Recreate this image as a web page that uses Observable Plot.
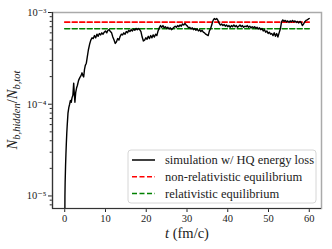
<!DOCTYPE html>
<html><head><meta charset="utf-8">
<script src="https://cdn.jsdelivr.net/npm/d3@7"></script>
<script src="https://cdn.jsdelivr.net/npm/@observablehq/plot@0.6"></script>
<style>body{margin:0;background:#fff} svg{display:block}</style>
</head><body><div id="chart"></div>
<script>
// time (fm/c)
const tValues = [0,0.05,0.1,0.2,0.3,0.4,0.5,0.6,0.8,1.0,1.2,1.4,1.6,1.8,2.0,2.2,2.35,2.5,2.7,2.9,3.1,3.4,3.7,4.0,4.25,4.45,4.65,4.85,5.05,5.3,5.5,5.8,6.1,6.4,6.7,7.0,7.3,7.6,7.9,8.2,8.5,8.8,9.1,9.4,9.7,10.0,10.3,10.6,10.9,11.2,11.5,11.8,12.1,12.4,12.7,13.0,13.3,13.6,13.9,14.2,14.5,14.8,15.1,15.4,15.7,16.0,16.3,16.6,16.9,17.2,17.5,17.8,18.1,18.4,18.7,19.0,19.3,19.6,19.9,20.2,20.5,20.8,21.1,21.4,21.7,22.0,22.3,22.6,22.9,23.2,23.5,23.8,24.1,24.4,24.7,25.0,25.3,25.6,25.9,26.2,26.5,26.8,27.1,27.4,27.7,28.0,28.3,28.6,28.9,29.2,29.5,29.8,30.1,30.4,30.7,31.0,31.3,31.6,31.9,32.2,32.5,32.8,33.1,33.4,33.7,34.0,34.3,34.6,34.9,35.2,35.5,35.8,36.1,36.4,36.7,37.0,37.3,37.6,37.9,38.2,38.5,38.8,39.1,39.4,39.7,40.0,40.3,40.6,40.9,41.2,41.5,41.8,42.1,42.4,42.7,43.0,43.3,43.6,43.9,44.2,44.5,44.8,45.1,45.4,45.7,46.0,46.3,46.6,46.9,47.2,47.5,47.8,48.1,48.4,48.7,49.0,49.3,49.6,49.9,50.2,50.5,50.8,51.1,51.4,51.7,52.0,52.3,52.6,52.9,53.2,53.5,53.8,54.1,54.4,54.7,55.0,55.3,55.6,55.9,56.2,56.5,56.8,57.1,57.4,57.7,58.0,58.3,58.6,58.9,59.2,59.5,59.8,60.0];
// N_b,hidden / N_b,tot in units of 1e-4
const simValuesE4 = [0.02,0.1,0.14,0.21,0.29,0.38,0.48,0.58,0.8,0.92,1.0,1.1,1.05,1.18,1.25,1.7,1.3,1.05,1.35,1.5,1.6,1.82,1.95,2.05,2.2,2.05,1.98,2.4,2.65,2.8,3.2,3.9,4.5,5.0,5.3,5.2,5.6,5.3,5.8,5.5,5.9,5.7,6.0,5.8,6.1,6.3,6.0,6.4,6.5,6.2,6.0,5.4,5.0,4.6,4.8,5.2,5.0,5.5,5.8,5.7,6.0,5.8,6.2,6.0,6.4,6.2,6.5,6.3,6.6,6.4,6.7,6.5,6.7,6.5,6.2,5.4,4.9,5.0,5.3,5.1,5.5,5.2,5.6,5.3,5.7,5.4,5.8,5.6,6.3,6.8,7.2,6.9,7.2,6.8,7.0,6.7,6.9,6.6,6.8,6.5,6.7,6.9,7.1,6.9,7.2,7.0,7.3,7.1,7.5,7.3,7.6,7.3,7.1,6.8,6.9,6.6,6.8,6.5,6.7,6.4,6.6,6.3,6.5,6.2,6.4,6.1,6.0,5.8,5.7,5.6,6.3,6.7,7.4,8.2,8.6,8.4,8.6,8.2,7.6,7.3,7.5,7.2,7.4,7.1,7.3,7.0,7.2,6.9,7.2,7.0,7.3,7.0,7.2,6.9,7.1,7.3,7.0,7.2,6.9,7.1,7.0,7.2,6.9,7.1,6.8,7.0,6.8,7.0,6.7,6.9,6.6,6.8,6.5,6.7,6.3,6.5,6.1,6.3,5.9,6.1,5.8,5.9,5.6,6.0,5.5,5.9,5.4,6.0,6.6,7.9,8.3,8.0,8.2,7.9,8.1,7.8,8.1,7.9,8.2,7.9,8.1,7.8,8.0,7.7,8.0,7.8,7.2,7.5,7.9,8.2,8.3,8.5,8.6];
const eqT = [0, 60];
const nonRelEq = 7.85e-4;
const relEq = 6.65e-4;
const xTicks = [0,10,20,30,40,50,60];
const xTickLabels = ["0","10","20","30","40","50","60"];
const yMajor = [1e-5,1e-4,1e-3];
const yTickLabels = ["10\u207B\u2075","10\u207B\u2074","10\u207B\u00B3"];
const yMinor = [8e-6,9e-6,2e-5,3e-5,4e-5,5e-5,6e-5,7e-5,8e-5,9e-5,2e-4,3e-4,4e-4,5e-4,6e-4,7e-4,8e-4,9e-4];
const legendLabels = ["simulation w/ HQ energy loss","non-relativistic equilibrium","relativistic equilibrium"];
const legendColors = ["black","red","green"];
const legendDash = [null,"5,2.5","5,2.5"];

const data = tValues.map((t, i) => ({t, v: simValuesE4[i] * 1e-4}));
const yMin = 7.3e-6;
const serif = "'Liberation Serif', 'DejaVu Serif', serif";

const svg = Plot.plot({
  width: 332, height: 249,
  marginLeft: 52, marginRight: 11, marginTop: 12, marginBottom: 41,
  style: {fontFamily: serif, fontSize: "10px", background: "white", color: "#222"},
  x: {domain: [-3, 63]},
  y: {type: "log", domain: [yMin, 1e-3]},
  marks: [
    Plot.axisX({ticks: xTicks, tickFormat: d => xTickLabels[xTicks.indexOf(d)], tickSize: 4, tickPadding: 2, label: null, fontSize: 10.5}),
    Plot.axisY({ticks: yMajor, tickFormat: d => yTickLabels[yMajor.indexOf(d)], tickSize: 4, tickPadding: 2, label: null, fontSize: 10.5}),
    Plot.axisY({ticks: yMinor, tickFormat: () => "", tickSize: 2.3, label: null}),
    Plot.frame({stroke: "#aaa", strokeWidth: 1.5}),
    Plot.ruleX([-3], {stroke: "#333", strokeWidth: 1.2}),
    Plot.ruleY([yMin], {stroke: "#333", strokeWidth: 1.2}),
    Plot.line(eqT, {x: d => d, y: () => nonRelEq, stroke: "red", strokeWidth: 1.6, strokeDasharray: "5,2.5"}),
    Plot.line(eqT, {x: d => d, y: () => relEq, stroke: "green", strokeWidth: 1.6, strokeDasharray: "5,2.5"}),
    Plot.line(data, {x: "t", y: "v", stroke: "black", strokeWidth: 1.4, clip: true})
  ]
});

const root = d3.select(svg);
// x label
const xl = root.append("text").attr("x", 187).attr("y", 238).attr("text-anchor", "middle")
  .attr("font-family", serif).attr("font-size", 14.5).attr("fill", "#222");
xl.append("tspan").attr("font-style", "italic").text("t");
xl.append("tspan").text(" (fm/c)");
// y label
const yl = root.append("text").attr("transform", "translate(17,110) rotate(-90)").attr("text-anchor", "middle")
  .attr("font-family", serif).attr("font-size", 14.5).attr("fill", "#222").attr("font-style", "italic");
yl.append("tspan").text("N");
yl.append("tspan").attr("font-size", 10.5).attr("dy", 3).text("b,hidden");
yl.append("tspan").attr("dy", -3).attr("font-style", "normal").text("/");
yl.append("tspan").text("N");
yl.append("tspan").attr("font-size", 10.5).attr("dy", 3).text("b,tot");
// legend
const lg = root.append("g").attr("text-anchor", "start");
lg.append("rect").attr("x", 128).attr("y", 150).attr("width", 188).attr("height", 53).attr("rx", 3)
  .attr("fill", "white").attr("fill-opacity", 0.85).attr("stroke", "#d6d6d6");
legendLabels.forEach((lab, i) => {
  const y = 160 + i * 16.7;
  const ln = lg.append("line").attr("x1", 132).attr("x2", 155).attr("y1", y).attr("y2", y)
    .attr("stroke", legendColors[i]).attr("stroke-width", 1.5);
  if (legendDash[i]) ln.attr("stroke-dasharray", legendDash[i]);
  lg.append("text").attr("x", 165).attr("y", y).attr("dy", "0.35em").attr("text-anchor", "start")
    .attr("font-family", serif).attr("font-size", 12.5).attr("fill", "#222").text(lab);
});
document.getElementById("chart").appendChild(svg);
</script></body></html>
